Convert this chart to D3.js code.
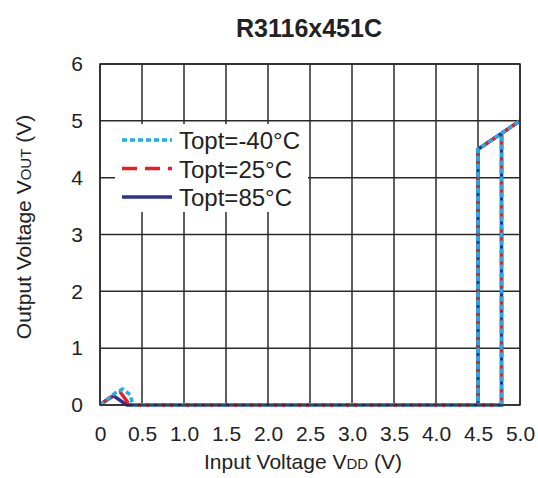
<!DOCTYPE html>
<html>
<head>
<meta charset="utf-8">
<script src="https://cdn.jsdelivr.net/npm/d3@7/dist/d3.min.js"></script>
<style>
  body { margin: 0; background: #fff; }
  text { font-family: "Liberation Sans", Arial, sans-serif; fill: #222; }
</style>
</head>
<body>
<div id="chart-area"></div>
<script>
// data
var xTicks = [0, 0.5, 1.0, 1.5, 2.0, 2.5, 3.0, 3.5, 4.0, 4.5, 5.0];
var yTicks = [0, 1, 2, 3, 4, 5, 6];
var seriesNames = ['Topt=-40\u00b0C', 'Topt=25\u00b0C', 'Topt=85\u00b0C'];
var vddM40 = [0, 0.12, 0.18, 0.27, 0.36, 0.39, 4.78, 4.78, 5.0, 4.5, 4.5];
var outM40 = [0, 0.14, 0.21, 0.28, 0.18, 0, 0, 4.78, 5.0, 4.5, 0];
var vdd25 = [0, 0.12, 0.24, 0.33, 0.35, 4.78, 4.78, 5.0, 4.5, 4.5];
var out25 = [0, 0.13, 0.23, 0.05, 0, 0, 4.78, 5.0, 4.5, 0];
var vdd85 = [0, 0.08, 0.16, 0.32, 4.78, 4.78, 5.0, 4.5, 4.5];
var out85 = [0, 0.09, 0.16, 0, 0, 4.78, 5.0, 4.5, 0];

var margin = { left: 100, right: 18, top: 64, bottom: 73 };
var width = 538 - margin.left - margin.right,
    height = 478 - margin.top - margin.bottom;

var svg = d3.select('#chart-area')
  .append('svg')
    .attr('width', 538)
    .attr('height', 478);

var g = svg.append('g')
  .attr('transform', 'translate(' + margin.left + ',' + margin.top + ')');

var x = d3.scaleLinear().domain([0, 5]).range([0, width]);
var y = d3.scaleLinear().domain([0, 6]).range([height, 0]);

// grid
g.selectAll('.vgrid').data(xTicks).enter().append('line')
  .attr('x1', function(d) { return x(d); })
  .attr('x2', function(d) { return x(d); })
  .attr('y1', 0).attr('y2', height)
  .attr('stroke', '#2a2a2a').attr('stroke-width', 1.5);
g.selectAll('.hgrid').data(yTicks).enter().append('line')
  .attr('x1', 0).attr('x2', width)
  .attr('y1', function(d) { return y(d); })
  .attr('y2', function(d) { return y(d); })
  .attr('stroke', '#2a2a2a').attr('stroke-width', 1.5);

// axes (labels only)
var xAxisCall = d3.axisBottom(x).tickValues(xTicks).tickSize(0).tickPadding(21)
  .tickFormat(function(d) { return d === 0 ? '0' : d3.format('.1f')(d); });
var xAxisGroup = g.append('g')
  .attr('transform', 'translate(0,' + height + ')')
  .call(xAxisCall);
var yAxisCall = d3.axisLeft(y).tickValues(yTicks).tickSize(0).tickPadding(17)
  .tickFormat(d3.format('d'));
var yAxisGroup = g.append('g').call(yAxisCall);
[xAxisGroup, yAxisGroup].forEach(function(a) {
  a.select('.domain').remove();
  a.selectAll('text').attr('font-size', '21px')
    .attr('font-family', '"Liberation Sans", Arial, sans-serif').attr('fill', '#222');
});

// legend background
var legend = g.append('g').attr('transform', 'translate(15,60)');
legend.append('rect')
  .attr('x', 0).attr('y', 0).attr('width', 193).attr('height', 88)
  .attr('fill', '#fff');

var series = [
  { name: seriesNames[2], vdd: vdd85, out: out85, color: '#2e3192', dash: null },
  { name: seriesNames[1], vdd: vdd25, out: out25, color: '#ed1c24', dash: '15,8' },
  { name: seriesNames[0], vdd: vddM40, out: outM40, color: '#1ab0ea', dash: '5,3' }
];

var line = d3.line()
  .x(function(d) { return x(d[0]); })
  .y(function(d) { return y(d[1]); });

series.forEach(function(s) {
  var pts = s.vdd.map(function(v, i) { return [v, s.out[i]]; });
  g.append('path')
    .datum(pts)
    .attr('d', line)
    .attr('fill', 'none')
    .attr('stroke', s.color)
    .attr('stroke-width', 3.5)
    .attr('stroke-dasharray', s.dash);
});

// legend entries
var legendOrder = [series[2], series[1], series[0]];
legendOrder.forEach(function(s, i) {
  var ly = 16 + i * 28.5;
  legend.append('line')
    .attr('x1', 7).attr('x2', 57)
    .attr('y1', ly).attr('y2', ly)
    .attr('stroke', s.color).attr('stroke-width', 3.5)
    .attr('stroke-dasharray', s.dash);
  legend.append('text')
    .attr('x', 64).attr('y', ly + 9)
    .attr('font-size', '24px')
    .text(s.name);
});

// frame
g.append('rect')
  .attr('x', 0).attr('y', 0).attr('width', width).attr('height', height)
  .attr('fill', 'none').attr('stroke', '#2a2a2a').attr('stroke-width', 1.5);

// title
svg.append('text')
  .attr('x', 309).attr('y', 37)
  .attr('text-anchor', 'middle')
  .attr('font-size', '25px').attr('font-weight', 'bold')
  .attr('fill', '#111')
  .text('R3116x451C');

// X label
var xl = svg.append('text')
  .attr('x', 303).attr('y', 469)
  .attr('text-anchor', 'middle')
  .attr('font-size', '21px');
xl.append('tspan').text('Input Voltage V');
xl.append('tspan').attr('font-size', '15px').text('DD');
xl.append('tspan').text(' (V)');

// Y label
var yl = svg.append('text')
  .attr('transform', 'translate(31,227) rotate(-90)')
  .attr('text-anchor', 'middle')
  .attr('font-size', '21px');
yl.append('tspan').text('Output Voltage V');
yl.append('tspan').attr('font-size', '15px').text('OUT');
yl.append('tspan').text(' (V)');
</script>
</body>
</html>
